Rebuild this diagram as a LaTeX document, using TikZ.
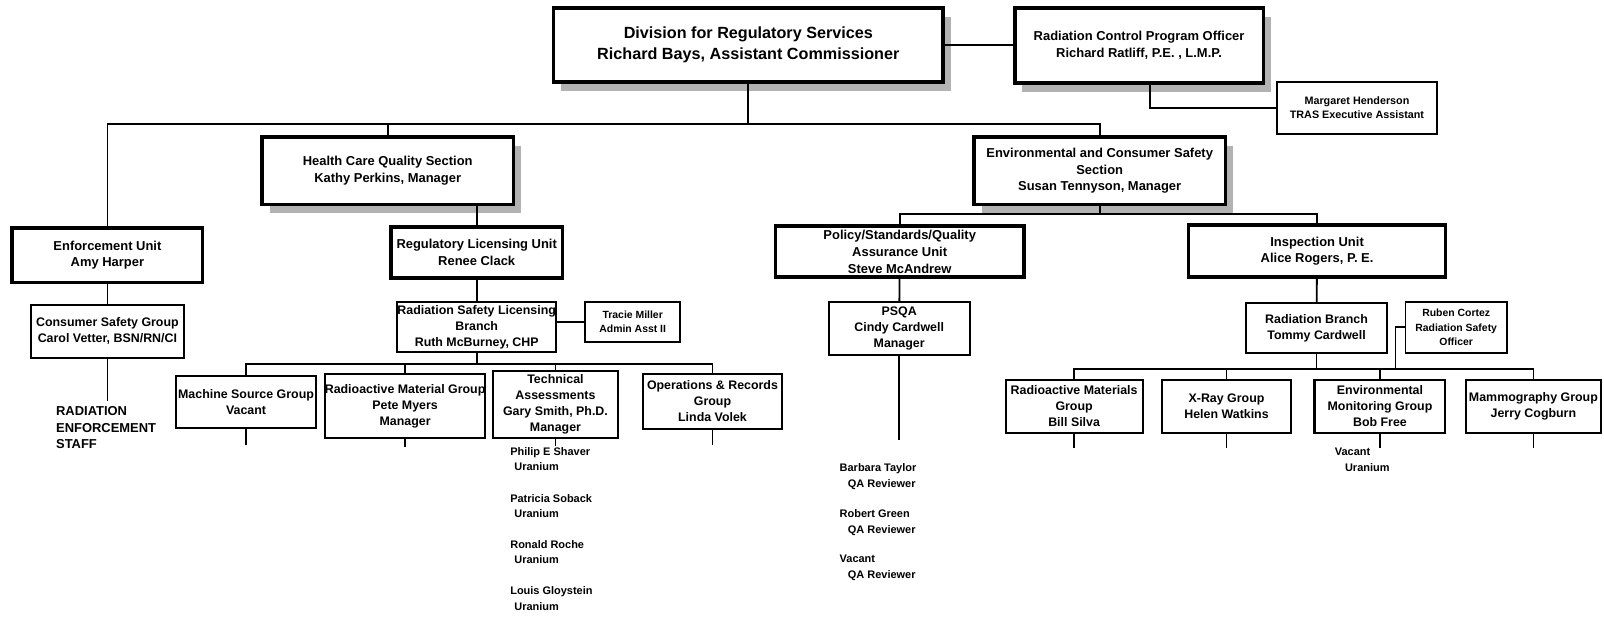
\documentclass[tikz,border=0pt]{standalone}
\usepackage{fontspec}
\setmainfont{Liberation Sans}
\usetikzlibrary{shadows}

\begin{document}
\begin{tikzpicture}[x=0.2mm,y=-0.2mm,line width=0.35mm,
  every node/.style={inner sep=0pt,align=center,font=\bfseries\fontsize{6.9}{8.9}\selectfont},
  wh/.style 2 args={minimum width=#1*0.2mm,minimum height=#2*0.2mm},
  unit/.style={draw,line width=0.7mm,fill=white,font=\bfseries\fontsize{7.2}{9.3}\selectfont},
  grp/.style={draw,line width=0.4mm,fill=white},
  aide/.style={draw,line width=0.35mm,fill=white,font=\bfseries\fontsize{5.8}{8}\selectfont},
  shaded/.style={general shadow={fill=black!30,shadow xshift=1.5mm,shadow yshift=-1.7mm}},
  staff/.style={anchor=west,align=left,font=\bfseries\fontsize{6.1}{8.5}\selectfont}]
\useasboundingbox (0,0) rectangle (1568,605);

\node[unit,shaded,wh={381}{72},font=\bfseries\fontsize{9}{12}\selectfont] (div) at (731.5,44) {Division for Regulatory Services\\Richard Bays, Assistant Commissioner};
\node[unit,shaded,wh={243}{73}] (rcpo) at (1113.5,44.5) {Radiation Control Program Officer\\Richard Ratliff, P.E. , L.M.P.};
\node[aide,wh={157}{51},font=\bfseries\fontsize{6}{7.8}\selectfont] (mh) at (1326.5,105.5) {Margaret Henderson\\TRAS Executive Assistant};

\node[unit,wh={186}{53}] (enf) at (105,249.5) {Enforcement Unit\\Amy Harper};
\node[unit,shaded,wh={246}{66}] (hc) at (379,167) {Health Care Quality Section\\Kathy Perkins, Manager};
\node[unit,shaded,wh={246}{66}] (env) at (1075,167) {Environmental and Consumer Safety\\Section\\Susan Tennyson, Manager};
\node[unit,wh={168}{50}] (reg) at (466,247) {Regulatory Licensing Unit\\Renee Clack};
\node[unit,wh={243}{50}] (psqau) at (879.5,246) {Policy/Standards/Quality\\Assurance Unit\\Steve McAndrew};
\node[unit,wh={251}{51}] (insp) at (1287.5,245.5) {Inspection Unit\\Alice Rogers, P. E.};

\node[grp,wh={150}{52}] (csg) at (105,324) {Consumer Safety Group\\Carol Vetter, BSN/RN/CI};
\node[grp,wh={148}{49}] (rslb) at (466,319.5) {Radiation Safety Licensing\\Branch\\Ruth McBurney, CHP};
\node[aide,wh={93}{39}] (tm) at (618.5,314.5) {Tracie Miller\\Admin Asst II};
\node[grp,wh={138}{52}] (psqa) at (879,321) {PSQA\\Cindy Cardwell\\Manager};
\node[grp,wh={138}{49}] (rb) at (1287,320.5) {Radiation Branch\\Tommy Cardwell};
\node[aide,wh={99}{50}] (rc) at (1423.5,320) {Ruben Cortez\\Radiation Safety\\Officer};

\node[grp,wh={137}{50}] (msg) at (240.5,393) {Machine Source Group\\Vacant};
\node[grp,wh={156}{62}] (rmg) at (396,397) {Radioactive Material Group\\Pete Myers\\Manager};
\node[grp,wh={122}{65}] (ta) at (543,395.5) {Technical\\Assessments\\Gary Smith, Ph.D.\\Manager};
\node[grp,wh={135}{53}] (ops) at (696.5,392.5) {Operations \& Records\\Group\\Linda Volek};
\node[grp,wh={134}{52}] (rmgr) at (1050,397) {Radioactive Materials\\Group\\Bill Silva};
\node[grp,wh={126}{52}] (xray) at (1199,397) {X-Ray Group\\Helen Watkins};
\node[grp,wh={128}{52}] (emg) at (1349,397) {Environmental\\Monitoring Group\\Bob Free};
\node[grp,wh={132}{52}] (mammo) at (1499,397) {Mammography Group\\Jerry Cogburn};

\node[staff,font=\bfseries\fontsize{7.2}{9.4}\selectfont] (res) at (54,418) {RADIATION\\ENFORCEMENT\\STAFF};
\node[staff] (shaver) at (498,448.5) {Philip E Shaver\\\hspace*{0.8mm}Uranium};
\node[staff] (soback) at (498,494.5) {Patricia Soback\\\hspace*{0.8mm}Uranium};
\node[staff] (roche) at (498,540) {Ronald Roche\\\hspace*{0.8mm}Uranium};
\node[staff] (gloystein) at (498,585) {Louis Gloystein\\\hspace*{0.8mm}Uranium};
\node[staff] (taylor) at (820,466) {Barbara Taylor\\\hspace*{1.6mm}QA Reviewer};
\node[staff] (green) at (820,511) {Robert Green\\\hspace*{1.6mm}QA Reviewer};
\node[staff] (qavac) at (820,555) {Vacant\\\hspace*{1.6mm}QA Reviewer};
\node[staff] (emvac) at (1304,449.5) {Vacant\\\hspace*{2mm}Uranium};

\coordinate (top) at (731.5,121);
\coordinate (lic) at (466,356);
\coordinate (ecs) at (1075,209);
\coordinate (rad) at (1287,361);

\draw (div.east) -- (div.east -| rcpo.west);
\draw ([xshift=2.1mm]rcpo.south) |- (mh.west);
\draw (div.south) -- (top);
\draw (enf.north) |- (env.north |- top) -- (env.north);
\draw (hc.north) -- (hc.north |- top);
\draw (hc.south -| reg.north) -- (reg.north);
\draw (enf) -- (csg);
\draw (csg.south) -- ++(0,41);
\draw (reg) -- (rslb);
\draw (rslb.east |- tm.west) -- (tm.west);
\draw (rslb.south) -- (lic);
\draw (msg.north) |- (ops.north |- lic) -- (ops.north);
\draw (rmg.north) -- (rmg.north |- lic);
\draw (ta.north) -- (ta.north |- lic);
\draw (msg.south) -- ++(0,16);
\draw (rmg.south) -- ++(0,8);
\draw (ta.south) -- ++(0,7);
\draw (ops.south) -- ++(0,15);
\draw (env.south) -- (ecs);
\draw (psqau.north) |- (insp.north |- ecs) -- (insp.north);
\draw (psqau) -- (psqa);
\draw (psqa.south) -- ++(0,82);
\draw (insp) -- (rb);
\draw (rb.south) -- (rad);
\draw (rmgr.north) |- (mammo.north |- rad) -- (mammo.north);
\draw (xray.north) -- (xray.north |- rad);
\draw (emg.north) -- (emg.north |- rad);
\draw (rc.west) -- ++(-9,0) |- (emg.north |- rad);
\draw (rmgr.south) -- ++(0,14);
\draw (xray.south) -- ++(0,14);
\draw (emg.south) -- ++(0,14);
\draw (mammo.south) -- ++(0,14);
\end{tikzpicture}
\end{document}
